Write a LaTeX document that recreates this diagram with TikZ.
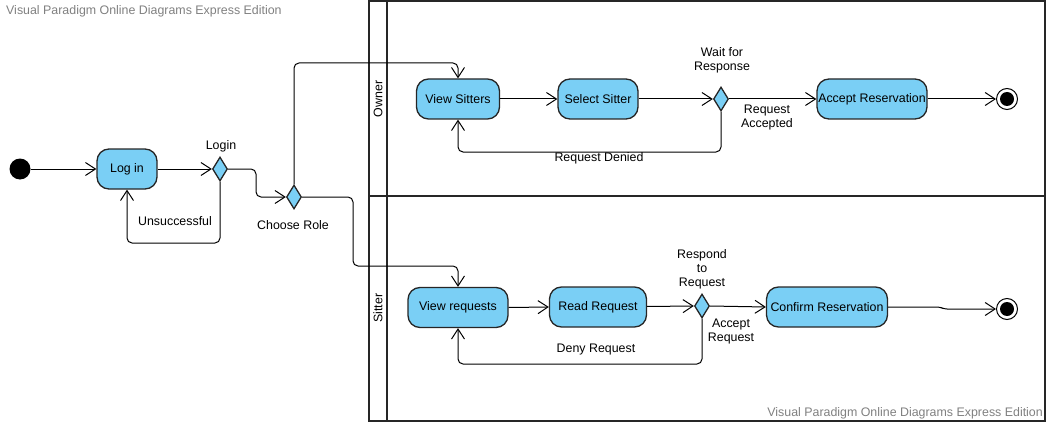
\documentclass[tikz,border=0pt]{standalone}
\usepackage{fontspec}
\setmainfont{Liberation Sans}
\usetikzlibrary{shapes.geometric,arrows.meta}
\definecolor{actfill}{RGB}{122,207,245}
\definecolor{wmgray}{RGB}{128,128,128}
\begin{document}
\begin{tikzpicture}[x=1pt,y=-1pt,
  every node/.style={font=\fontsize{12.4}{14}\selectfont},
  act/.style={draw=black!85,fill=actfill,line width=1.3pt,rectangle,rounded corners=12pt,
              minimum height=40pt,inner sep=0pt},
  decision/.style={draw=black!85,fill=actfill,line width=1.3pt,diamond,
              minimum width=15pt,minimum height=24pt,inner sep=0pt},
  startnode/.style={circle,fill=black,minimum size=21pt,inner sep=0pt},
  endnode/.style={circle,draw=black,line width=1pt,minimum size=21pt,inner sep=0pt,
              path picture={\fill (path picture bounding box.center) circle (7pt);}},
  flow/.style={line width=1pt,rounded corners=5pt,-{Straight Barb[length=10pt,width=13pt,line width=1pt]}},
  lbl/.style={align=center,inner sep=0pt},
  lane/.style={line width=2pt,draw=black!85},
  watermark/.style={text=wmgray,inner sep=0pt}]
\useasboundingbox (0,0) rectangle (1049,425);

% swimlane pool
\draw[lane] (369,1) rectangle (1045,421);
\draw[lane] (387,1) -- (387,421);
\draw[lane] (369,196) -- (1045,196);
\node[rotate=90,inner sep=0pt] (ownerlbl) at (378,99) {Owner};
\node[rotate=90,inner sep=0pt] (sitterlbl) at (378,308) {Sitter};

% watermarks
\node[watermark,anchor=west] (wm1) at (6,11) {Visual Paradigm Online Diagrams Express Edition};
\node[watermark,anchor=east] (wm2) at (1043,413) {Visual Paradigm Online Diagrams Express Edition};

% login part
\node[startnode] (init) at (20,169) {};
\node[act,minimum width=60pt] (loginbox) at (127,169) {Log in};
\node[decision] (login) at (220,169) {};
\node[lbl] (loginlbl) at (221,146) {Login};
\node[lbl] (unslbl) at (175,221) {Unsuccessful};
\node[decision] (choose) at (294,197) {};
\node[lbl] (chooselbl) at (293,225) {Choose Role};

% owner lane
\node[act,minimum width=83pt] (vs) at (458,99) {View Sitters};
\node[act,minimum width=80pt] (ss) at (598,99) {Select Sitter};
\node[decision] (wait) at (721,99) {};
\node[lbl] (waitlbl) at (722,60) {Wait for\\Response};
\node[act,minimum width=110pt] (ar) at (872,99) {Accept Reservation};
\node[endnode] (fin1) at (1007,99) {};
\node[lbl] (acclbl) at (767,118) {Request\\Accepted};
\node[lbl] (denlbl) at (599,158) {Request Denied};

% sitter lane
\node[act,minimum width=100pt] (vr) at (458,307.5) {View requests};
\node[act,minimum width=97pt] (rr) at (598,307) {Read Request};
\node[decision] (resp) at (702,306) {};
\node[lbl] (resplbl) at (702,269) {Respond\\to\\Request};
\node[act,minimum width=121pt] (cr) at (827,307) {Confirm Reservation};
\node[endnode] (fin2) at (1007,309) {};
\node[lbl] (acrlbl) at (731,332) {Accept\\Request};
\node[lbl] (dnrlbl) at (596,350) {Deny Request};

% bend points
\coordinate (b1) at (458,63);
\coordinate (b2) at (256,169);
\coordinate (b3) at (220,243);
\coordinate (b4) at (353,266);
\coordinate (b6) at (458,152);
\coordinate (b7) at (458,364);
\coordinate (k1) at (940,307);
\coordinate (k2) at (944,309);

% connectors
\draw[flow] (init) -- (loginbox);
\draw[flow] (loginbox) -- (login.west);
\draw[flow] (login.south) -- (b3) -| (loginbox.south);
\draw[flow] (login.east) -- (b2) |- (choose.west);
\draw[flow] (choose.north) |- (b1) -- (vs.north);
\draw[flow] (choose.east) -| (b4) -| (vr.north);

\draw[flow] (vs) -- (ss);
\draw[flow] (ss) -- (wait.west);
\draw[flow] (wait.east) -- (ar.west);
\draw[flow] (ar) -- (fin1);
\draw[flow] (wait.south) |- (b6) -- (vs.south);

\draw[flow] (vr.east) -- (rr.west);
\draw[flow] (rr) -- (resp.west);
\draw[flow] (resp.east) -- (cr.west);
\draw[flow,rounded corners=3pt] (cr.east) -- (k1) -- (k2) -- (fin2.west);
\draw[flow] (resp.south) |- (b7) -- (vr.south);
\end{tikzpicture}
\end{document}
